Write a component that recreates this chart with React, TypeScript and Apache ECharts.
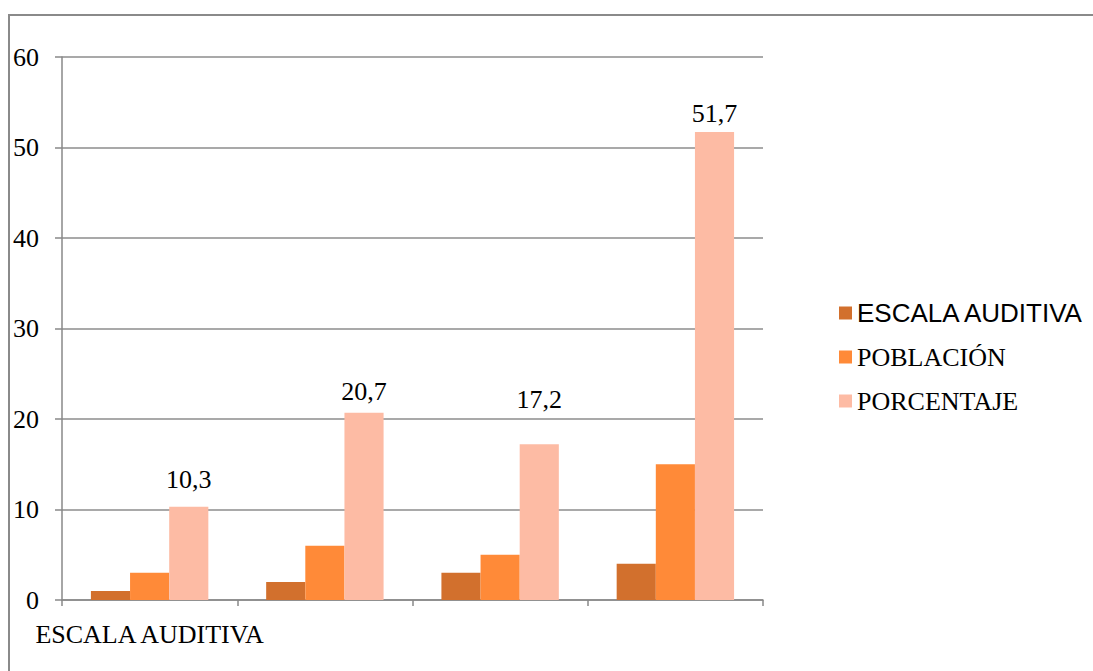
import React, { useEffect, useRef } from "react";
import * as echarts from "echarts";

const categories = ["ESCALA AUDITIVA", "", "", ""];
const seriesNames = ["ESCALA AUDITIVA", "POBLACIÓN", "PORCENTAJE"];
const escalaAuditiva = [1, 2, 3, 4];
const poblacion = [3, 6, 5, 15];
const porcentaje = [10.3, 20.7, 17.2, 51.7];
const yTicks = [0, 10, 20, 30, 40, 50, 60];

// gap in px between each percentage bar's top and its value label
const labelLift = [14, 8, 32, 6];

const colors = ["#D2702D", "#FF8A38", "#FDBBA4"];
const serif = "'Liberation Serif', 'Times New Roman', serif";
const sans = "'Liberation Sans', Arial, sans-serif";

export default function App() {
  const ref = useRef<HTMLDivElement>(null);

  useEffect(() => {
    if (!ref.current) return;
    const chart = echarts.init(ref.current, undefined, { renderer: "svg" });
    const values = [escalaAuditiva, poblacion, porcentaje];

    const labelStyle = {
      show: true,
      position: "top",
      color: "#000",
      fontFamily: serif,
      fontSize: 26,
      formatter: (p: any) => String(p.value).replace(".", ","),
    };

    chart.setOption({
      animation: false,
      backgroundColor: "#ffffff",
      color: colors,
      graphic: [
        {
          type: "rect",
          shape: { x: 9, y: 15, width: 1200, height: 800 },
          style: { fill: "none", stroke: "#8a8a8a", lineWidth: 2 },
          silent: true,
        },
      ],
      grid: { left: 62, right: 330, top: 57, bottom: 71 },
      legend: {
        orient: "vertical",
        left: 834,
        top: 295,
        itemWidth: 13,
        itemHeight: 13,
        itemGap: 18,
        icon: "rect",
        data: seriesNames,
        formatter: (name: string) =>
          name === "ESCALA AUDITIVA" ? `{s|${name}}` : `{t|${name}}`,
        textStyle: {
          color: "#000",
          padding: [0, 0, 0, 0],
          rich: {
            s: { fontFamily: sans, fontSize: 26, color: "#000", lineHeight: 26 },
            t: { fontFamily: serif, fontSize: 26, color: "#000", lineHeight: 26 },
          },
        },
      },
      xAxis: {
        type: "category",
        data: categories,
        boundaryGap: true,
        axisLine: { lineStyle: { color: "#898989", width: 1.5 } },
        axisTick: { show: true, length: 6, lineStyle: { color: "#898989", width: 1.5 } },
        axisLabel: {
          color: "#000",
          fontFamily: serif,
          fontSize: 26,
          margin: 21,
          interval: 0,
        },
        splitLine: { show: false },
      },
      yAxis: {
        type: "value",
        min: yTicks[0],
        max: yTicks[yTicks.length - 1],
        interval: 10,
        axisLine: { show: true, lineStyle: { color: "#898989", width: 1.5 } },
        axisTick: { show: true, length: 7, lineStyle: { color: "#898989", width: 1.5 } },
        axisLabel: {
          color: "#000",
          fontFamily: serif,
          fontSize: 26,
          margin: 23,
        },
        splitLine: { show: true, lineStyle: { color: "#8c8c8c", width: 1.5 } },
      },
      series: seriesNames.map((name, i) => ({
        name,
        type: "bar",
        data:
          i === 2
            ? values[i].map((v, j) => ({
                value: v,
                label: { ...labelStyle, distance: labelLift[j] },
              }))
            : values[i],
        barGap: "0%",
        barCategoryGap: "33%",
        itemStyle: { color: colors[i] },
        label: i === 2 ? labelStyle : { show: false },
      })),
    });

    return () => chart.dispose();
  }, []);

  return (
    <div
      ref={ref}
      style={{ position: "fixed", left: 0, top: 0, width: 1093, height: 671 }}
    />
  );
}
